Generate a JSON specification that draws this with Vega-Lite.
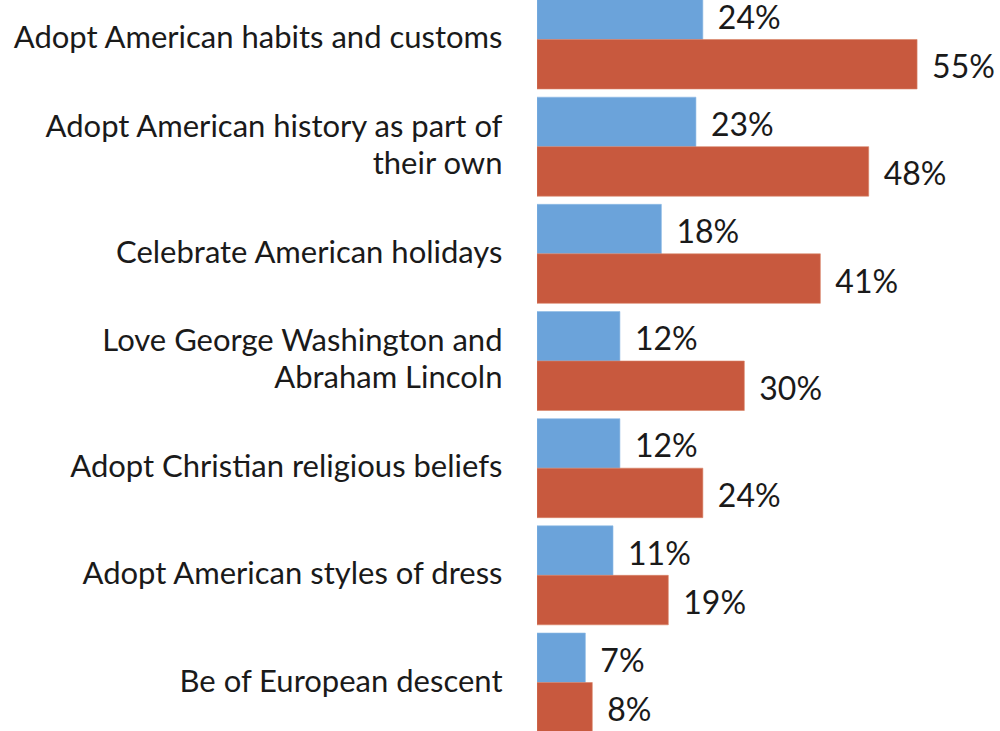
{
  "$schema": "https://vega.github.io/schema/vega-lite/v6.json",
  "autosize": {"type": "none"},
  "padding": {"left": 537, "top": 0, "right": 0, "bottom": 0},
  "width": 463,
  "height": 731,
  "background": "white",
  "config": {"view": {"stroke": null}, "font": "Lato"},
  "data": {
    "values": [
      {"item": "Adopt American habits and customs", "group": "A", "pct": 0.24},
      {"item": "Adopt American habits and customs", "group": "B", "pct": 0.55},
      {"item": "Adopt American history as part of their own", "group": "A", "pct": 0.23},
      {"item": "Adopt American history as part of their own", "group": "B", "pct": 0.48},
      {"item": "Celebrate American holidays", "group": "A", "pct": 0.18},
      {"item": "Celebrate American holidays", "group": "B", "pct": 0.41},
      {"item": "Love George Washington and Abraham Lincoln", "group": "A", "pct": 0.12},
      {"item": "Love George Washington and Abraham Lincoln", "group": "B", "pct": 0.30},
      {"item": "Adopt Christian religious beliefs", "group": "A", "pct": 0.12},
      {"item": "Adopt Christian religious beliefs", "group": "B", "pct": 0.24},
      {"item": "Adopt American styles of dress", "group": "A", "pct": 0.11},
      {"item": "Adopt American styles of dress", "group": "B", "pct": 0.19},
      {"item": "Be of European descent", "group": "A", "pct": 0.07},
      {"item": "Be of European descent", "group": "B", "pct": 0.08}
    ]
  },
  "encoding": {
    "y": {
      "field": "item",
      "type": "nominal",
      "sort": null,
      "scale": {"range": [-10, 732], "paddingInner": 0.0765, "paddingOuter": 0},
      "axis": {
        "title": null,
        "domain": false,
        "ticks": false,
        "labelPadding": 35,
        "labelFontSize": 31,
        "labelColor": "#1a1a1a",
        "labelLineHeight": 37,
        "labelLimit": 600,
        "labelOffset": {"condition": {"test": "indexof(datum.value, 'their own') >= 0 || indexof(datum.value, 'Lincoln') >= 0", "value": -19}, "value": 0},
        "labelExpr": "datum.value == 'Adopt American history as part of their own' ? ['Adopt American history as part of', 'their own'] : datum.value == 'Love George Washington and Abraham Lincoln' ? ['Love George Washington and', 'Abraham Lincoln'] : datum.value"
      }
    },
    "yOffset": {"field": "group", "type": "nominal", "scale": {"paddingInner": 0, "paddingOuter": 0}},
    "x": {
      "field": "pct",
      "type": "quantitative",
      "scale": {"domain": [0, 0.67]},
      "axis": null
    }
  },
  "layer": [
    {
      "mark": {"type": "bar", "clip": true, "strokeWidth": 1, "strokeOpacity": 0.6},
      "encoding": {
        "color": {
          "field": "group",
          "type": "nominal",
          "scale": {"domain": ["A", "B"], "range": ["#6BA3DA", "#C8593E"]},
          "legend": null
        },
        "stroke": {
          "field": "group",
          "type": "nominal",
          "scale": {"domain": ["A", "B"], "range": ["#8DBBE6", "#D98468"]},
          "legend": null
        }
      }
    },
    {
      "mark": {"type": "text", "align": "left", "baseline": "middle", "dx": 15, "dy": 4, "fontSize": 32, "color": "#1a1a1a", "clip": true},
      "encoding": {
        "text": {"field": "pct", "type": "quantitative", "format": ".0%"},
        "detail": {"field": "group"}
      }
    }
  ]
}
